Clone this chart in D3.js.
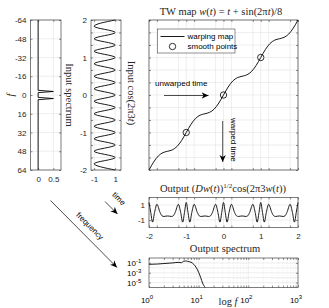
<!DOCTYPE html>
<html>
<head>
<meta charset="utf-8">
<script src="https://cdn.jsdelivr.net/npm/d3@7"></script>
<style>
body { margin: 0; background: #fff; }
.tick text { font-family: "Liberation Sans", Arial, sans-serif; font-size: 8px; fill: #262626; }
.tick line { stroke: #262626; stroke-width: 0.5; }
.domain { display: none; }
.ttl { font-family: "Liberation Serif", "DejaVu Serif", serif; font-size: 10.5px; fill: #262626; }
.ann { font-family: "Liberation Sans", Arial, sans-serif; font-size: 8px; fill: #000; }
</style>
</head>
<body>
<svg width="329" height="308"></svg>
<script>
// input spectrum (left panel)
var specFreq = [-64, -4, -3, -2, 2, 3, 4, 64];
var specMag = [0, 0, 0.5, 0, 0, 0.5, 0, 0];
var specTicks = [-64, -48, -32, -16, 0, 16, 32, 48, 64];
var specXTicks = [0, 0.5];

// input signal cos(2*pi*3t), vertices of the wave
var inTime = [-2, -1.833, -1.667, -1.5, -1.333, -1.167, -1, -0.833, -0.667, -0.5, -0.333, -0.167, 0,
              0.167, 0.333, 0.5, 0.667, 0.833, 1, 1.167, 1.333, 1.5, 1.667, 1.833, 2];
var inVal = [1, -1, 1, -1, 1, -1, 1, -1, 1, -1, 1, -1, 1, -1, 1, -1, 1, -1, 1, -1, 1, -1, 1, -1, 1];
var inXTicks = [-1, 1];

// warping map w(t)
var mapT = [-2, -1.875, -1.75, -1.625, -1.5, -1.375, -1.25, -1.125, -1, -0.875, -0.75, -0.625, -0.5,
            -0.375, -0.25, -0.125, 0, 0.125, 0.25, 0.375, 0.5, 0.625, 0.75, 0.875, 1,
            1.125, 1.25, 1.375, 1.5, 1.625, 1.75, 1.875, 2];
var mapW = [-2, -1.7866, -1.625, -1.5366, -1.5, -1.4634, -1.375, -1.2134, -1, -0.7866, -0.625, -0.5366, -0.5,
            -0.4634, -0.375, -0.2134, 0, 0.2134, 0.375, 0.4634, 0.5, 0.5366, 0.625, 0.7866, 1,
            1.2134, 1.375, 1.4634, 1.5, 1.5366, 1.625, 1.7866, 2];
var smoothT = [-1, 0, 1];
var smoothW = [-1, 0, 1];

// grids: uniform in w, warped back to t
var wGrid = [-2, -1.667, -1.333, -1, -0.667, -0.333, 0, 0.333, 0.667, 1, 1.333, 1.667, 2];
var tGrid = [-2, -1.788, -1.212, -1, -0.788, -0.212, 0, 0.212, 0.788, 1, 1.212, 1.788, 2];
var intTicks = [-2, -1, 0, 1, 2];

// output signal
var outT = [-2, -1.953, -1.904, -1.851, -1.788, -1.7025, -1.65, -1.6, -1.55, -1.5, -1.45, -1.4, -1.35, -1.2975, -1.212, -1.149, -1.096, -1.047,
            -1, -0.953, -0.904, -0.851, -0.788, -0.7025, -0.65, -0.6, -0.55, -0.5, -0.45, -0.4, -0.35, -0.2975, -0.212, -0.149, -0.096, -0.047,
            0, 0.047, 0.096, 0.149, 0.212, 0.2975, 0.35, 0.4, 0.45, 0.5, 0.55, 0.6, 0.65, 0.7025, 0.788, 0.851, 0.904, 0.953,
            1, 1.047, 1.096, 1.149, 1.212, 1.2975, 1.35, 1.4, 1.45, 1.5, 1.55, 1.6, 1.65, 1.7025, 1.788, 1.851, 1.904, 1.953, 2];
var outS = [1.336, 0, -1.283, 0, 1.089, 0, -0.444, -0.53, -0.491, -0.464, -0.491, -0.53, -0.444, 0, 1.089, 0, -1.283, 0,
            1.336, 0, -1.283, 0, 1.089, 0, -0.444, -0.53, -0.491, -0.464, -0.491, -0.53, -0.444, 0, 1.089, 0, -1.283, 0,
            1.336, 0, -1.283, 0, 1.089, 0, -0.444, -0.53, -0.491, -0.464, -0.491, -0.53, -0.444, 0, 1.089, 0, -1.283, 0,
            1.336, 0, -1.283, 0, 1.089, 0, -0.444, -0.53, -0.491, -0.464, -0.491, -0.53, -0.444, 0, 1.089, 0, -1.283, 0, 1.336];
var outYTicks = [-1, 1];

// output spectrum
var outSpecF = [1, 1.5, 2, 3, 4, 4.5, 5, 5.5, 6, 7, 8, 9, 10, 11, 12, 13.5];
var outSpecA = [0.052, 0.06, 0.075, 0.1, 0.13, 0.11, 0.22, 0.25, 0.2, 0.14, 0.05, 0.01, 0.0012, 1e-4, 8e-6, 1e-6];
var logXTicks = [1, 10, 100, 1000];
var logYTicks = [1e-5, 1e-3, 1e-1];
var logYGrid = [1e-5, 1e-4, 1e-3, 1e-2, 1e-1];

var svg = d3.select("svg");
var ink = "#262626";
var gridCol = "#e2e2e2";

function panel(x0, y0) {
    return svg.append("g").attr("transform", "translate(" + x0 + "," + y0 + ")");
}

function grid(g, xs, ys, w, h, xv, yv, dash) {
    g.append("g").selectAll("line").data(xv).enter().append("line")
        .attr("x1", function(d) { return xs(d); }).attr("x2", function(d) { return xs(d); })
        .attr("y1", 0).attr("y2", h)
        .attr("stroke", gridCol).attr("stroke-width", 0.6)
        .attr("stroke-dasharray", dash || null);
    g.append("g").selectAll("line").data(yv).enter().append("line")
        .attr("y1", function(d) { return ys(d); }).attr("y2", function(d) { return ys(d); })
        .attr("x1", 0).attr("x2", w)
        .attr("stroke", gridCol).attr("stroke-width", 0.6);
}

function ticks(g, xs, ys, w, h, xv, yv, xfmt, yfmt, xpad, ypad) {
    g.append("g").attr("transform", "translate(0," + h + ")")
        .call(d3.axisBottom(xs).tickValues(xv).tickSize(-2).tickPadding(xpad).tickFormat(xfmt));
    g.append("g").call(d3.axisTop(xs).tickValues(xv).tickSize(-2).tickFormat(""));
    g.append("g")
        .call(d3.axisLeft(ys).tickValues(yv).tickSize(-2).tickPadding(ypad).tickFormat(yfmt));
    g.append("g").attr("transform", "translate(" + w + ",0)")
        .call(d3.axisRight(ys).tickValues(yv).tickSize(-2).tickFormat(""));
}

function box(g, w, h) {
    g.append("rect").attr("width", w).attr("height", h)
        .attr("fill", "none").attr("stroke", ink).attr("stroke-width", 0.6);
}

function plain(d) { return String(d); }
function intOnly(d) { return Number.isInteger(d) ? String(d) : ""; }

// ---- panel 1: input spectrum
var w1 = 30.5, h1 = 150;
var g1 = panel(30.5, 20);
var x1 = d3.scaleLinear().domain([-0.25, 0.75]).range([0, w1]);
var y1 = d3.scaleLinear().domain([-64, 64]).range([0, h1]);
grid(g1, x1, y1, w1, h1, specXTicks, specTicks);
g1.append("path")
    .datum(d3.range(specFreq.length))
    .attr("fill", "none").attr("stroke", "#000").attr("stroke-width", 0.9)
    .attr("d", d3.line().x(function(i) { return x1(specMag[i]); }).y(function(i) { return y1(specFreq[i]); }));
ticks(g1, x1, y1, w1, h1, specXTicks, specTicks, plain, plain, 6, 4);
box(g1, w1, h1);
svg.append("text").attr("class", "ttl").attr("font-style", "italic")
    .attr("transform", "translate(14,95) rotate(-90)").attr("text-anchor", "middle").text("f");
svg.append("text").attr("class", "ttl")
    .attr("transform", "translate(66,95) rotate(90)").attr("text-anchor", "middle").text("Input spectrum");

// ---- panel 2: input signal
var w2 = 30, h2 = 150;
var g2 = panel(91, 20);
var x2 = d3.scaleLinear().domain([-1.3, 1.55]).range([0, w2]);
var y2 = d3.scaleLinear().domain([-2, 2]).range([h2, 0]);
grid(g2, x2, y2, w2, h2, inXTicks, wGrid);
g2.append("path")
    .datum(d3.range(inTime.length))
    .attr("fill", "none").attr("stroke", "#000").attr("stroke-width", 0.9)
    .attr("d", d3.line().curve(d3.curveMonotoneY)
        .x(function(i) { return x2(inVal[i]); }).y(function(i) { return y2(inTime[i]); }));
ticks(g2, x2, y2, w2, h2, inXTicks, wGrid, plain, intOnly, 6, 4);
box(g2, w2, h2);
var lab2 = svg.append("text").attr("class", "ttl")
    .attr("transform", "translate(128,93) rotate(90)").attr("text-anchor", "middle");
lab2.append("tspan").text("Input cos(2π3");
lab2.append("tspan").attr("font-style", "italic").text("t");
lab2.append("tspan").text(")");

// ---- panel 3: warping map
var w3 = 149, h3 = 150;
var g3 = panel(149, 20);
var x3 = d3.scaleLinear().domain([-2, 2]).range([0, w3]);
var y3 = d3.scaleLinear().domain([-2, 2]).range([h3, 0]);
grid(g3, x3, y3, w3, h3, tGrid, wGrid);
g3.append("path")
    .datum(d3.range(mapT.length))
    .attr("fill", "none").attr("stroke", "#000").attr("stroke-width", 0.9)
    .attr("d", d3.line().curve(d3.curveMonotoneX)
        .x(function(i) { return x3(mapT[i]); }).y(function(i) { return y3(mapW[i]); }));
g3.selectAll("circle.sp").data(smoothT).enter().append("circle")
    .attr("cx", function(d) { return x3(d); })
    .attr("cy", function(d, i) { return y3(smoothW[i]); })
    .attr("r", 3.2).attr("fill", "none").attr("stroke", "#000").attr("stroke-width", 0.8);
ticks(g3, x3, y3, w3, h3, tGrid, wGrid, function() { return ""; }, function() { return ""; }, 6, 4);
box(g3, w3, h3);

var t3 = svg.append("text").attr("class", "ttl").attr("x", 221).attr("y", 15).attr("text-anchor", "middle");
t3.append("tspan").text("TW map ");
t3.append("tspan").attr("font-style", "italic").text("w");
t3.append("tspan").text("(");
t3.append("tspan").attr("font-style", "italic").text("t");
t3.append("tspan").text(") = ");
t3.append("tspan").attr("font-style", "italic").text("t");
t3.append("tspan").text(" + sin(2π");
t3.append("tspan").attr("font-style", "italic").text("t");
t3.append("tspan").text(")/8");

// legend
var lg = svg.append("g").attr("transform", "translate(157.5,29)");
lg.append("rect").attr("width", 77.5).attr("height", 24)
    .attr("fill", "#fff").attr("stroke", ink).attr("stroke-width", 0.5);
lg.append("line").attr("x1", 3).attr("x2", 27).attr("y1", 7.5).attr("y2", 7.5)
    .attr("stroke", "#000").attr("stroke-width", 0.9);
lg.append("circle").attr("cx", 15).attr("cy", 17.5).attr("r", 3.2)
    .attr("fill", "none").attr("stroke", "#000").attr("stroke-width", 0.8);
lg.append("text").attr("class", "ann").attr("x", 30).attr("y", 10.3).text("warping map");
lg.append("text").attr("class", "ann").attr("x", 30).attr("y", 20.3).text("smooth points");

// arrows
var defs = svg.append("defs");
defs.append("marker").attr("id", "ah")
    .attr("viewBox", "0 0 10 10").attr("refX", 10).attr("refY", 5)
    .attr("markerWidth", 7).attr("markerHeight", 7).attr("markerUnits", "userSpaceOnUse")
    .attr("orient", "auto")
    .append("path").attr("d", "M0,0.5 L10,5 L0,9.5 L3,5 Z").attr("fill", "#000");

function arrow(xa, ya, xb, yb) {
    svg.append("line").attr("x1", xa).attr("y1", ya).attr("x2", xb).attr("y2", yb)
        .attr("stroke", "#000").attr("stroke-width", 0.7).attr("marker-end", "url(#ah)");
}
arrow(164, 95.5, 208.5, 95.5);
arrow(222.7, 121, 222.7, 162);
arrow(105, 201.5, 117.5, 214);
arrow(50.5, 200.5, 117, 267.5);
svg.append("text").attr("class", "ann").attr("x", 155).attr("y", 86).text("unwarped time");
svg.append("text").attr("class", "ann").attr("transform", "translate(231,118) rotate(90)").text("warped time");
svg.append("text").attr("class", "ann").attr("text-anchor", "middle")
    .attr("transform", "translate(119,198.5) rotate(45)").attr("dy", "0.35em").text("time");
svg.append("text").attr("class", "ann").attr("text-anchor", "middle")
    .attr("transform", "translate(90,226) rotate(45)").attr("dy", "0.35em").text("frequency");

// ---- panel 4: output signal
var w4 = 149, h4 = 30;
var g4 = panel(149, 197.5);
var x4 = d3.scaleLinear().domain([-2, 2]).range([0, w4]);
var y4 = d3.scaleLinear().domain([-2, 2]).range([h4, 0]);
grid(g4, x4, y4, w4, h4, tGrid, outYTicks);
g4.append("path")
    .datum(d3.range(outT.length))
    .attr("fill", "none").attr("stroke", "#000").attr("stroke-width", 0.9)
    .attr("d", d3.line().curve(d3.curveMonotoneX)
        .x(function(i) { return x4(outT[i]); }).y(function(i) { return y4(outS[i]); }));
ticks(g4, x4, y4, w4, h4, tGrid, outYTicks, intOnly, plain, 6, 4);
box(g4, w4, h4);

var t4 = svg.append("text").attr("class", "ttl").attr("x", 223).attr("y", 192).attr("text-anchor", "middle");
t4.append("tspan").text("Output (");
t4.append("tspan").attr("font-style", "italic").text("Dw");
t4.append("tspan").text("(");
t4.append("tspan").attr("font-style", "italic").text("t");
t4.append("tspan").text("))");
t4.append("tspan").attr("font-size", "7px").attr("dy", "-4").text("1/2");
t4.append("tspan").attr("dy", "4").text("cos(2π3");
t4.append("tspan").attr("font-style", "italic").text("w");
t4.append("tspan").text("(");
t4.append("tspan").attr("font-style", "italic").text("t");
t4.append("tspan").text("))");

// ---- panel 5: output spectrum
var w5 = 149, h5 = 29.5;
var g5 = panel(149, 258);
var x5 = d3.scaleLog().domain([1, 1000]).range([0, w5]);
var y5 = d3.scaleLog().domain([1e-6, 1]).range([h5, 0]);
var minor = x5.ticks().filter(function(d) { return logXTicks.indexOf(d) < 0; });
grid(g5, x5, y5, w5, h5, minor, logYGrid, "1,1.5");
grid(g5, x5, y5, w5, h5, [10, 100], []);
g5.append("path")
    .datum(d3.range(outSpecF.length))
    .attr("fill", "none").attr("stroke", "#000").attr("stroke-width", 0.9)
    .attr("d", d3.line().curve(d3.curveMonotoneX)
        .x(function(i) { return x5(outSpecF[i]); }).y(function(i) { return y5(outSpecA[i]); }));
ticks(g5, x5, y5, w5, h5, x5.ticks(), logYTicks, function() { return ""; }, function() { return ""; }, 9, 4);
box(g5, w5, h5);

function pow10(sel, exps, anchor) {
    sel.each(function(d, i) {
        var t = d3.select(this);
        t.append("tspan").text("10");
        t.append("tspan").attr("font-size", "6px").attr("dy", "-3.5").text(String(exps[i]));
    });
}
var xl = g5.append("g").selectAll("text").data(logXTicks).enter().append("text")
    .attr("class", "ann").attr("fill", ink)
    .attr("x", function(d) { return x5(d) - 2; }).attr("y", h5 + 15)
    .attr("text-anchor", "middle");
pow10(xl, [0, 1, 2, 3]);
var yl = g5.append("g").selectAll("text").data(logYTicks).enter().append("text")
    .attr("class", "ann").attr("fill", ink)
    .attr("x", -13).attr("y", function(d) { return y5(d) + 3.5; })
    .attr("text-anchor", "end");
pow10(yl, [-5, -3, -1]);
g5.selectAll("text.ann tspan:last-child").attr("x", null);
yl.attr("text-anchor", "start").attr("x", -22);

svg.append("text").attr("class", "ttl").attr("x", 225).attr("y", 252).attr("text-anchor", "middle").text("Output spectrum");
var lf = svg.append("text").attr("class", "ttl").attr("x", 228).attr("y", 305).attr("text-anchor", "middle");
lf.append("tspan").text("log ");
lf.append("tspan").attr("font-style", "italic").text("f");
</script>
</body>
</html>
